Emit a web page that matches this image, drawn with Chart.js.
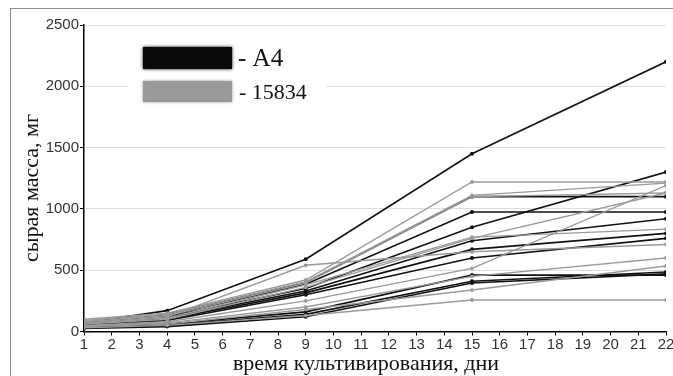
<!DOCTYPE html>
<html>
<head>
<meta charset="utf-8">
<script src="https://cdn.jsdelivr.net/npm/chart.js@4.4.1/dist/chart.umd.min.js"></script>
<style>
  html, body { margin: 0; padding: 0; background: #fff; }
  #wrap { width: 673px; height: 376px; position: relative; }
</style>
</head>
<body>
<div id="wrap"><canvas id="myChart" width="673" height="376"></canvas></div>
<script>
// days of cultivation where mass was measured
var days = [1, 4, 9, 15, 22];

// black lines - A4
var a4Lines = [
    [70, 170, 590, 1450, 2200],
    [60, 140, 400, 1100, 1100],
    [55, 130, 385, 975, 975],
    [50, 120, 350, 850, 1300],
    [60, 110, 330, 740, 920],
    [45, 100, 315, 670, 800],
    [40, 90, 300, 600, 760],
    [35, 60, 160, 460, 460],
    [30, 50, 140, 410, 485],
    [25, 40, 120, 395, 470]
];

// gray lines - 15834
var lines15834 = [
    [100, 150, 420, 1220, 1220],
    [90, 140, 405, 1110, 1210],
    [80, 130, 395, 1100, 1130],
    [70, 120, 540, 650, 710],
    [65, 110, 380, 770, 835],
    [60, 100, 360, 760, 1130],
    [50, 80, 250, 515, 1190],
    [45, 70, 200, 450, 600],
    [40, 60, 180, 338, 534],
    [30, 50, 130, 257, 257]
];

var yTicks = [0, 500, 1000, 1500, 2000, 2500];
var xTitle = 'время культивирования, дни';
var yTitle = 'сырая масса, мг';

function toPoints(arr) {
    return arr.map(function(v, i) {
        return { x: days[i], y: v };
    });
}

function makeDataset(arr, color, width) {
    return {
        data: toPoints(arr),
        borderColor: color,
        backgroundColor: color,
        borderWidth: width,
        pointRadius: 1.2,
        pointHoverRadius: 1.2,
        tension: 0
    };
}

var datasets = [];
// gray first so black is drawn on top
lines15834.forEach(function(l) { datasets.push(makeDataset(l, '#9a9a9a', 1.4)); });
a4Lines.forEach(function(l) { datasets.push(makeDataset(l, '#111111', 1.6)); });

// picture frame, axis titles and the pasted legend
var extrasPlugin = {
    id: 'extras',
    afterDraw: function(chart) {
        var ctx = chart.ctx;
        ctx.save();
        ctx.strokeStyle = '#8c8c8c';
        ctx.lineWidth = 1;
        ctx.strokeRect(10.5, 8.5, 700, 400);

        // axis titles
        ctx.fillStyle = '#111';
        ctx.font = '22px "Liberation Serif"';
        ctx.textAlign = 'center';
        ctx.textBaseline = 'middle';
        ctx.fillText(xTitle, 366, 364);
        ctx.save();
        ctx.translate(32, 188);
        ctx.rotate(-Math.PI / 2);
        ctx.fillText(yTitle, 0, 0);
        ctx.restore();

        // legend box
        ctx.textAlign = 'left';
        ctx.fillStyle = '#fff';
        ctx.fillRect(128, 30, 198, 87);
        ctx.shadowColor = '#000';
        ctx.shadowBlur = 3;
        ctx.fillStyle = '#0a0a0a';
        ctx.fillRect(143, 47, 89, 22);
        ctx.shadowColor = '#999';
        ctx.fillStyle = '#999';
        ctx.fillRect(143, 81, 89, 21);
        ctx.shadowBlur = 0;

        ctx.fillStyle = '#111';
        ctx.font = '25px "Liberation Serif"';
        ctx.fillText('- A4', 238, 59);
        ctx.font = '22px "Liberation Serif"';
        ctx.fillText('- 15834', 239, 93);
        ctx.restore();
    }
};

var ctx = document.getElementById('myChart');
var myChart = new Chart(ctx, {
    type: 'line',
    data: { datasets: datasets },
    options: {
        responsive: false,
        animation: false,
        events: [],
        layout: { padding: { top: 25, right: 7, left: 0, bottom: 0 } },
        plugins: {
            legend: { display: false },
            tooltip: { enabled: false }
        },
        scales: {
            x: {
                type: 'linear',
                min: 1,
                max: 22,
                ticks: {
                    stepSize: 1,
                    color: '#333',
                    font: { family: 'Liberation Sans', size: 15 },
                    padding: 0,
                    maxRotation: 0,
                    autoSkip: false
                },
                grid: { drawOnChartArea: false, drawTicks: true, tickLength: 4, color: '#000' },
                border: { color: '#000', width: 1.5 },
                afterFit: function(scale) {
                    scale.height = 44.5;
                    scale.paddingLeft = 0;
                    scale.paddingRight = 0;
                }
            },
            y: {
                min: 0,
                max: 2500,
                afterBuildTicks: function(scale) {
                    scale.ticks = yTicks.map(function(v) { return { value: v }; });
                },
                ticks: {
                    color: '#333',
                    font: { family: 'Liberation Sans', size: 15 },
                    padding: 1,
                    callback: function(v) { return String(v); }
                },
                grid: { color: '#dedede', tickColor: '#000', tickLength: 4 },
                border: { color: '#000', width: 1.5 },
                afterFit: function(scale) {
                    scale.width = 84;
                    scale.paddingTop = 0;
                    scale.paddingBottom = 0;
                }
            }
        }
    },
    plugins: [extrasPlugin]
});
</script>
</body>
</html>
